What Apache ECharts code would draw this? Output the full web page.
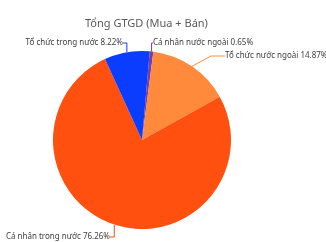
<!DOCTYPE html>
<html><head><meta charset="utf-8">
<script src="https://cdn.jsdelivr.net/npm/echarts@6/dist/echarts.min.js"></script>
<style>html,body{margin:0;padding:0;background:#fff}#c{width:326px;height:242px}</style>
</head><body><div id="c"></div>
<script>
const titleText = 'Tổng GTGD (Mua + Bán)';
const categories = ['Cá nhân nước ngoài', 'Tổ chức nước ngoài', 'Cá nhân trong nước', 'Tổ chức trong nước'];
const values = [0.65, 14.87, 76.26, 8.22];
const colors = ['#7a3aa8', '#ff8a3c', '#ff5010', '#0a3dff'];

// label anchor positions (layout only)
const labelPos = [
  {x: 153, y: 43, align: 'left'},
  {x: 225, y: 56, align: 'left'},
  {x: 110, y: 237, align: 'right'},
  {x: 123, y: 43, align: 'right'}
];

const chart = echarts.init(document.getElementById('c'), null, {renderer: 'canvas'});
chart.setOption({
  animation: false,
  title: {text: titleText, left: 80, top: 13, textStyle: {fontFamily: 'Noto Sans', fontSize: 11, fontWeight: 'normal', color: '#595959'}},
  series: [{
    type: 'pie',
    center: [142, 140],
    radius: 89,
    startAngle: 85,
    clockwise: true,
    data: categories.map((n, i) => ({name: n, value: values[i], itemStyle: {color: colors[i]}})),
    label: {
      formatter: p => p.name + ' ' + p.value.toFixed(2) + '%',
      fontFamily: 'Noto Sans', fontSize: 8, color: '#404040', overflow: 'none'
    },
    labelLine: {length: 4, length2: 14, lineStyle: {width: 1}},
    labelLayout: p => Object.assign({verticalAlign: 'middle'}, labelPos[p.dataIndex]),
    emphasis: {disabled: true}
  }]
});
</script></body></html>
